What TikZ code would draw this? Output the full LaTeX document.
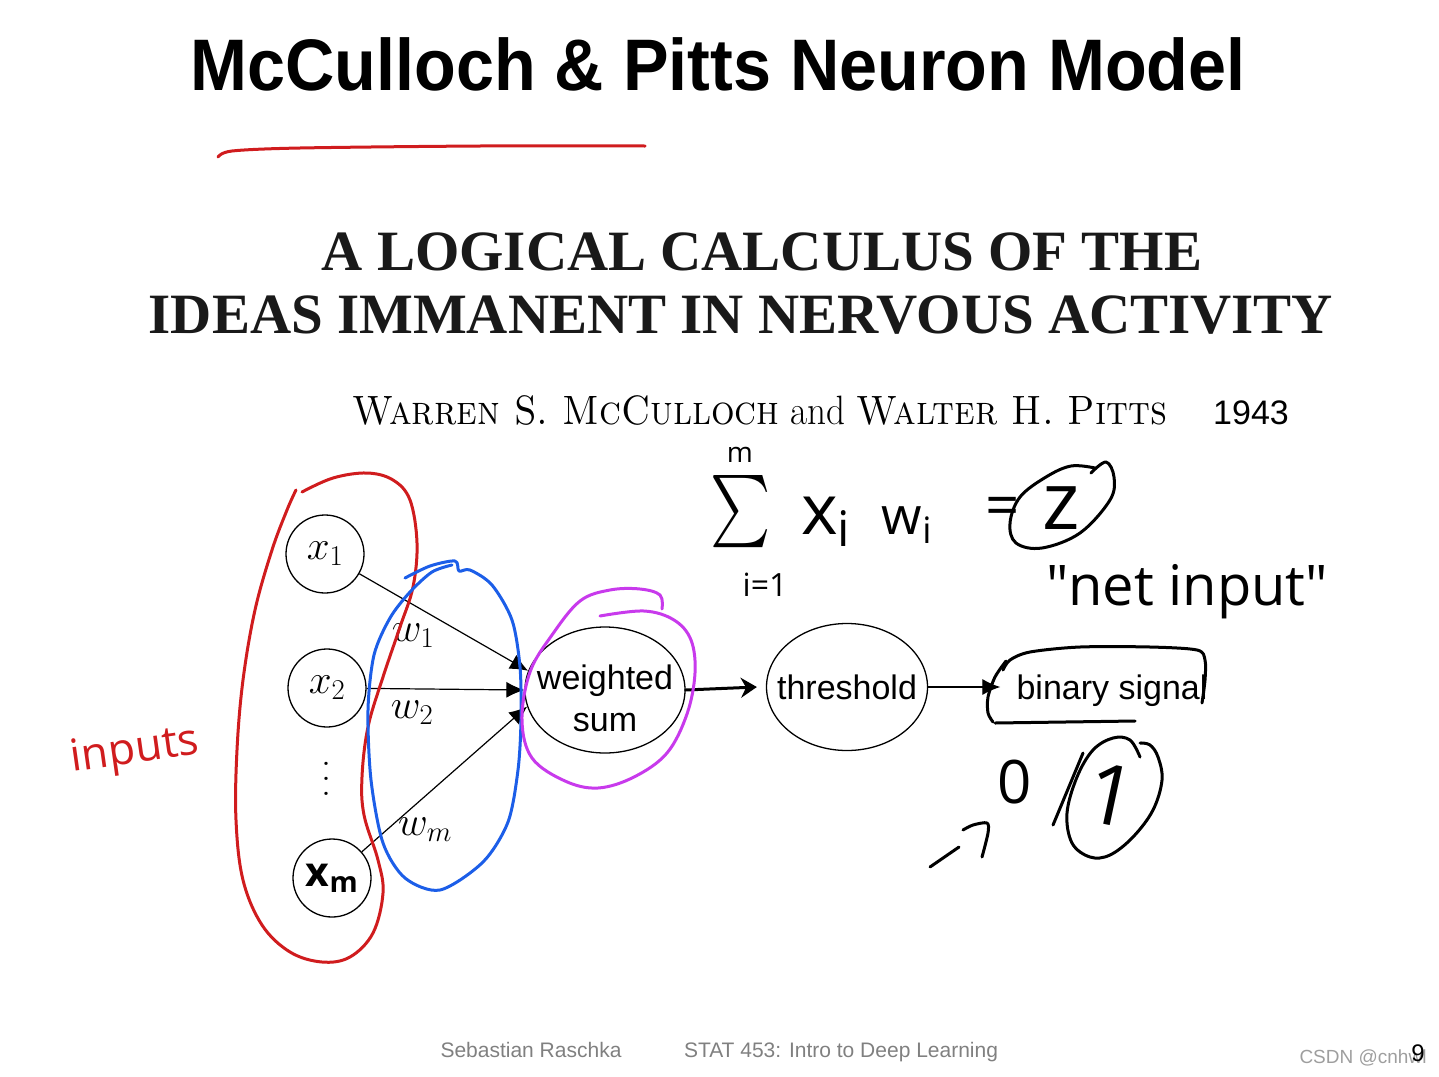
\RequirePackage{fix-cm}
\documentclass[tikz,border=0pt]{standalone}
\usepackage{fontspec}
\usepackage{amsmath}
\usepackage{graphicx}
\usepackage{tikz}
\usetikzlibrary{arrows.meta, positioning, shapes.geometric}
\newfontfamily\slidefont{Liberation Sans}
\newfontfamily\paperfont{Liberation Serif}
\newfontfamily\handfont{Open Sans}
\definecolor{penred}{RGB}{208,28,30}
\definecolor{penblue}{RGB}{28,94,232}
\definecolor{penpurple}{RGB}{200,58,236}
\colorlet{footgray}{black!50}
\colorlet{markgray}{black!38}

\begin{document}
\begin{tikzpicture}[x=1pt, y=-1pt,
    inp/.style={draw, circle, line width=1.3pt, minimum size=78pt, inner sep=0pt, font=\fontsize{41}{44}\selectfont},
    unit/.style={draw, ellipse, line width=1.3pt, inner xsep=-20pt, inner ysep=0pt, align=center, font=\slidefont\fontsize{34}{42}\selectfont},
    conn/.style={line width=1.2pt, -{Latex[length=18pt, width=16pt]}},
    hand/.style={line width=3pt, line cap=round, line join=round},
    handtxt/.style={font=\handfont\fontsize{#1}{#1}\selectfont}]
  \useasboundingbox (0,0) rectangle (1439,1076);

  % slide title
  \node[anchor=base] (title) at (718,90) {\slidefont\bfseries\fontsize{73}{80}\selectfont\scalebox{0.936}[1]{McCulloch \& Pitts Neuron Model}};
  \draw[hand, penred] plot[smooth] coordinates {(218,157) (232,151) (300,148) (480,146) (645,146)};

  % paper
  \node[anchor=base, text=black!90] (paper1) at (762,270) {\paperfont\bfseries\fontsize{57}{60}\selectfont A LOGICAL CALCULUS OF THE};
  \node[anchor=base, text=black!90] (paper2) at (741,333) {\paperfont\bfseries\fontsize{57}{60}\selectfont IDEAS IMMANENT IN NERVOUS ACTIVITY};
  \node[anchor=base] (authors) at (760,424) {\fontsize{41}{44}\selectfont\scalebox{0.905}[1]{\textsc{Warren S. McCulloch} and \textsc{Walter H. Pitts}}};
  \node[anchor=base] (year) at (1251,424) {\slidefont\fontsize{34}{40}\selectfont 1943};

  % inputs
  \node[inp] (x1) at (325,554) {$x_1$};
  \node[inp] (x2) at (327,688) {$x_2$};
  \node[inp] (xm) at (332,878) {\handfont\bfseries x\textsubscript{m}};
  \node[align=center, font=\fontsize{40}{15}\selectfont] (dots) at (326,779) {.\\.\\.};

  % units
  \node[unit, minimum width=160pt, minimum height=126pt] (ws) at (605,690) {\rule{0pt}{42pt}weighted\\sum};
  \node[unit, minimum width=161pt, minimum height=127pt] (th) at (847,687) {threshold};
  \node[anchor=base, inner xsep=16pt, font=\slidefont\fontsize{34}{40}\selectfont] (bin) at (1112,699) {binary signal};

  % connectors
  \draw[conn] (x1) -- (ws.166);
  \draw[conn] (x2) -- (ws.west);
  \draw[conn] (xm) -- (ws.192);
  \draw[line width=1.2pt, -{Latex[length=18pt, width=16pt]}] (th.east) -- (th.east -| bin.west);
  \draw[hand, -{Stealth[length=16pt, width=20pt]}] (ws.east) -- ([xshift=-9pt]th.west);

  \node[font=\fontsize{41}{44}\selectfont] (w1) at (413,636) {$w_1$};
  \node[font=\fontsize{41}{44}\selectfont] (w2) at (412,713) {$w_2$};
  \node[font=\fontsize{41}{44}\selectfont] (wm) at (425,830) {$w_m$};

  % pen marks
  \draw[hand, penred] plot[smooth, tension=0.6] coordinates {(302,492) (333,478) (367,473) (393,480) (410,500) (417,543) (413,587) (400,627) (383,677) (368,727) (362,777) (364,815) (378,860) (383,893) (373,933) (350,957) (322,962) (290,952) (262,925) (243,880) (236,820) (237,750) (243,680) (255,610) (272,550) (287,510) (296,490)};
  \node[handtxt=44, text=penred, rotate=8] (inlab) at (135,752) {inputs};
  \draw[hand, penblue] plot[smooth, tension=0.5] coordinates {(405,578) (430,566) (455,561) (459,571) (470,570) (492,585) (512,620) (520,667) (521,720) (518,770) (508,822) (483,862) (440,890) (405,878) (383,843) (371,780) (368,710) (374,655) (390,618) (410,592) (432,572) (452,565)};
  \draw[hand, penpurple] plot[smooth, tension=0.6] coordinates {(662,609) (660,595) (640,589) (610,590) (580,601) (552,635) (530,672) (522,720) (532,758) (565,781) (598,788) (634,777) (667,753) (687,714) (695,673) (691,640) (674,620) (644,611) (600,616)};

  \draw[hand] plot[smooth, tension=0.5] coordinates {(1003,670) (1010,660) (1030,652) (1080,647) (1150,647) (1197,650) (1205,660) (1205,680) (1202,703)};
  \draw[hand] plot[smooth] coordinates {(1006,661) (995,677) (988,697) (988,713) (993,722)};
  \draw[hand] (995,723) -- (1135,721);

  % net input
  \node[inner sep=0pt, font=\fontsize{44}{44}\selectfont] (sumsym) at (741,512) {\scalebox{2.3}[2.9]{$\sum$}};
  \node[handtxt=28] (sumtop) at (740,455) {m};
  \node[handtxt=32] (sumbot) at (765,585) {i=1};
  \node[handtxt=70] (xi) at (826,522) {x\textsubscript{i}};
  \node[handtxt=52] (wi) at (907,525) {w\textsubscript{i}};
  \node[handtxt=60] (eq) at (1003,512) {=};
  \node[handtxt=80] (z) at (1061,508) {z};
  \draw[hand] plot[smooth, tension=0.6] coordinates {(1091,473) (1106,462) (1114,477) (1110,500) (1080,533) (1042,548) (1016,543) (1010,523) (1020,497) (1046,477) (1071,466) (1095,468)};
  \node[anchor=base, handtxt=56] (net) at (1187,605) {\textquotedbl net input\textquotedbl};

  % output values
  \node[handtxt=60] (zero) at (1015,782) {0};
  \node[handtxt=84, rotate=-12] (one) at (1111,795) {1};
  \draw[hand] (1083,753) -- (1053,825);
  \draw[hand] plot[smooth, tension=0.6] coordinates {(1140,757) (1130,740) (1113,738) (1093,750) (1077,777) (1067,813) (1072,843) (1090,857) (1110,855) (1133,837) (1153,810) (1162,780) (1158,757) (1150,745) (1140,743)};
  \draw[hand] (930,867) -- (959,847);
  \draw[hand] plot[smooth, tension=0.5] coordinates {(963,830) (973,825) (987,823) (988,833) (982,857)};

  % footer
  \node[anchor=base, text=footgray, font=\slidefont\fontsize{21}{24}\selectfont] (auth) at (531,1057) {Sebastian Raschka};
  \node[anchor=base, text=footgray, font=\slidefont\fontsize{21}{24}\selectfont] (course) at (841,1057) {STAT 453: Intro to Deep Learning};
  \node[anchor=base, text=markgray, font=\slidefont\fontsize{19}{22}\selectfont] (mark) at (1363,1063) {CSDN @cnhwl};
  \node[anchor=base, font=\slidefont\fontsize{24}{28}\selectfont] (page) at (1418,1061) {9};
\end{tikzpicture}
\end{document}
